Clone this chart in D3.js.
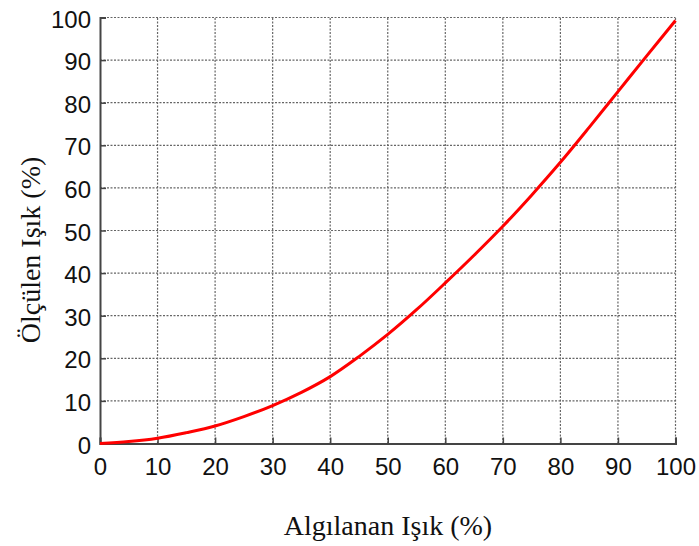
<!DOCTYPE html>
<html><head><meta charset="utf-8">
<script src="https://cdn.jsdelivr.net/npm/d3@7"></script>
<style>body{margin:0;background:#fff}</style>
</head><body>
<svg id="c" width="699" height="546"></svg>
<script>
const xValues = [0, 5, 10, 15, 20, 25, 30, 35, 40, 45, 50, 55, 60, 65, 70, 75, 80, 85, 90, 95, 100];
const yValues = [0, 0.45, 1.25, 2.55, 4.1, 6.3, 8.9, 12.0, 15.7, 20.4, 25.6, 31.4, 37.7, 44.2, 51.0, 58.3, 66.0, 74.2, 82.6, 91.0, 99.3];
const xTicks = [0,10,20,30,40,50,60,70,80,90,100];
const yTicks = [0,10,20,30,40,50,60,70,80,90,100];
const xTitle = "Algılanan Işık (%)";
const yTitle = "Ölçülen Işık (%)";

const svg = d3.select("#c");
const L = 100, R = 675.5, T = 17.5, B = 443.5;
const x = d3.scaleLinear().domain([0,100]).range([L,R]);
const y = d3.scaleLinear().domain([0,100]).range([B,T]);

// grid
const g = svg.append("g");
g.selectAll(".vx").data(xTicks.slice(1)).join("line")
  .attr("x1", d=>x(d)).attr("x2", d=>x(d)).attr("y1", B).attr("y2", T)
  .attr("stroke", "#666").attr("stroke-width", 1.2).attr("stroke-dasharray", "2,1.5");
g.selectAll(".hy").data(yTicks.slice(1)).join("line")
  .attr("y1", d=>y(d)).attr("y2", d=>y(d)).attr("x1", L).attr("x2", R)
  .attr("stroke", "#666").attr("stroke-width", 1.2).attr("stroke-dasharray", "2,1.5");

// axes
const xAxis = d3.axisBottom(x).tickValues(xTicks).tickSize(-6).tickPadding(14).tickFormat(d3.format("d"));
const yAxis = d3.axisLeft(y).tickValues(yTicks).tickSize(-6).tickPadding(9).tickFormat(d3.format("d"));
const gx = svg.append("g").attr("transform", `translate(0,${B})`).call(xAxis);
const gy = svg.append("g").attr("transform", `translate(${L},0)`).call(yAxis);
[gx, gy].forEach(a => {
  a.select(".domain").attr("stroke", "#444").attr("stroke-width", 2);
  a.selectAll(".tick line").attr("stroke", "#444").attr("stroke-width", 1.5);
  a.selectAll(".tick text").attr("font-family", "Liberation Sans, Arial, sans-serif")
    .attr("font-size", 24).attr("fill", "#111");
});
gy.selectAll(".tick text").attr("dy", "0.4em");
gx.selectAll(".tick text").attr("y", 31.5).attr("dy", 0);

// curve
const line = d3.line().x((d,i)=>x(xValues[i])).y(d=>y(d)).curve(d3.curveCatmullRom.alpha(0.5));
svg.append("path").datum(yValues).attr("d", line)
  .attr("fill", "none").attr("stroke", "#ff0000").attr("stroke-width", 3);

// titles
svg.append("text").attr("x", 388).attr("y", 535).attr("text-anchor", "middle")
  .attr("font-family", "Liberation Serif, Times New Roman, serif").attr("font-size", 28).attr("fill", "#111")
  .text(xTitle);
svg.append("text").attr("transform", "translate(40,250) rotate(-90)").attr("text-anchor", "middle")
  .attr("font-family", "Liberation Serif, Times New Roman, serif").attr("font-size", 28).attr("fill", "#111")
  .text(yTitle);
</script>
</body></html>
